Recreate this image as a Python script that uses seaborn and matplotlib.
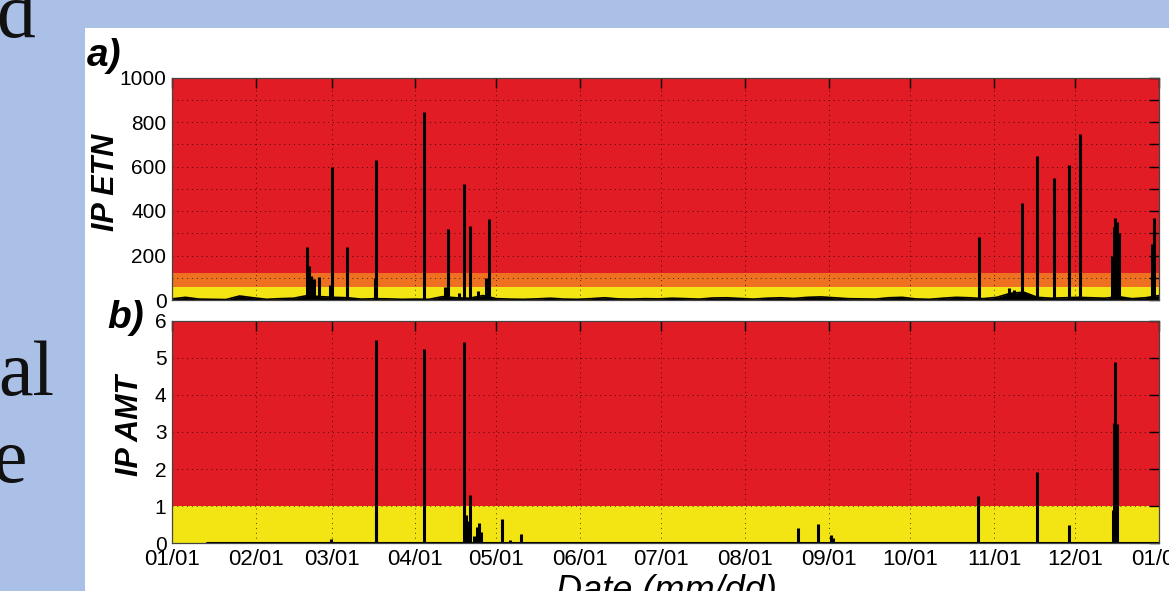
import matplotlib
matplotlib.use("Agg")
import matplotlib.pyplot as plt
from matplotlib.patches import Rectangle
import numpy as np
import pandas as pd
import seaborn as sns

# ---------------- data ----------------
month_starts = [0, 31, 59, 90, 120, 151, 181, 212, 243, 273, 304, 334, 365]
month_labels = ["01/01", "02/01", "03/01", "04/01", "05/01", "06/01", "07/01",
                "08/01", "09/01", "10/01", "11/01", "12/01", "01/01"]

# IP ETN background level (every 5 days)
etn_base_days = list(range(0, 366, 5))
etn_base_vals = [5, 12, 4, 3, 2, 18, 10, 3, 6, 8, 20, 15, 12, 10, 4, 6, 5, 3, 4, 3,
                 15, 10, 8, 20, 6, 4, 3, 5, 8, 4, 3, 6, 10, 5, 4, 6, 5, 8, 6, 4,
                 9, 10, 7, 4, 8, 10, 7, 12, 14, 10, 6, 5, 4, 10, 12, 5, 3, 8, 12, 10,
                 6, 12, 30, 35, 12, 8, 10, 12, 10, 8, 15, 6, 10, 20]

# IP ETN spikes (day of year, value)
etn_spike_days = [49.8, 50.7, 51.5, 52.5, 54.5, 58.3, 59.2, 64.6, 75.0, 75.3,
                  93.2, 101.0, 102.0, 106.0, 107.9, 110.2, 113.0, 116.2, 117.2,
                  298.3, 309.5, 311.5, 314.3, 320.0, 326.3, 331.7, 335.8,
                  347.5, 348.2, 348.7, 349.5, 350.2, 362.5, 363.0]
etn_spike_vals = [237, 154, 110, 95, 105, 67, 597, 240, 100, 627,
                  847, 60, 319, 30, 520, 334, 40, 99, 364,
                  285, 54, 45, 438, 649, 550, 607, 745,
                  200, 330, 367, 350, 300, 250, 370]

# IP AMT spikes (day of year, value)
amt_spike_days = [58.8, 75.3, 75.6, 93.2, 108.1, 108.6, 109.0, 110.2, 111.5, 112.8,
                  113.5, 114.2, 122.2, 125.0, 129.2, 231.4, 238.8, 243.8, 244.5,
                  298.2, 319.9, 331.7, 348.0, 348.4, 348.8, 349.4]
amt_spike_vals = [0.12, 5.48, 1.26, 5.24, 5.42, 0.75, 0.6, 1.3, 0.2, 0.45,
                  0.55, 0.3, 0.65, 0.08, 0.25, 0.4, 0.52, 0.22, 0.15,
                  1.28, 1.91, 0.48, 0.9, 3.25, 4.88, 3.2]
amt_base_days = [13, 365]
amt_base_vals = [0.02, 0.02]

# risk thresholds
etn_levels = [0, 60, 120, 1000]
amt_levels = [0, 1, 6]

# ---------------- style ----------------
sns.set_style("white")
plt.rcParams["font.family"] = ["Liberation Sans", "DejaVu Sans"]
plt.rcParams["text.color"] = "black"
plt.rcParams["axes.labelcolor"] = "black"
plt.rcParams["xtick.color"] = "black"
plt.rcParams["ytick.color"] = "black"

BLUE = "#abc0e7"
RED = "#e21c24"
ORANGE = "#ee7021"
YELLOW = "#f3e513"

W, H = 1169, 591
fig = plt.figure(figsize=(W / 100, H / 100), dpi=100, facecolor=BLUE)
fig.add_artist(Rectangle((85 / W, 0), 1 - 85 / W, (H - 28) / H,
                         transform=fig.transFigure, facecolor="white",
                         edgecolor="none", zorder=0))

left = 172 / W
width = (1159 - 172) / W
ax_a = fig.add_axes([left, 1 - 300 / H, width, (300 - 77.5) / H])
ax_b = fig.add_axes([left, 1 - 543.3 / H, width, (543.3 - 320.5) / H])

def style_axis(ax):
    ax.set_xlim(0, 365)
    ax.set_xticks(month_starts)
    ax.grid(True, color="black", linestyle=(0, (1, 4)), linewidth=0.7, alpha=0.7)
    ax.set_axisbelow(False)
    ax.tick_params(direction="in", length=7, width=1, top=True, right=True,
                   colors="black", labelcolor="black", labelsize=15, pad=4)
    for s in ax.spines.values():
        s.set_color("#444444")
        s.set_linewidth(0.9)
        s.set_zorder(5)
    ax.set_xlabel("")
    ax.set_ylabel("")

# panel a
ax_a.axhspan(etn_levels[0], etn_levels[1], color=YELLOW, zorder=0.5, lw=0)
ax_a.axhspan(etn_levels[1], etn_levels[2], color=ORANGE, zorder=0.5, lw=0)
ax_a.axhspan(etn_levels[2], etn_levels[3], color=RED, zorder=0.5, lw=0)
base_a = pd.DataFrame({"day": etn_base_days, "val": etn_base_vals})
sns.lineplot(data=base_a, x="day", y="val", ax=ax_a, color="black", lw=1.2, zorder=3)
ax_a.fill_between(base_a["day"], 0, base_a["val"], color="black", lw=0, zorder=3)
ax_a.vlines(etn_spike_days, 0, etn_spike_vals, color="black", lw=2.2, zorder=3)
style_axis(ax_a)
ax_a.set_ylim(0, 1000)
ax_a.set_yticks(range(0, 1001, 100))
ax_a.set_yticklabels([str(v) if v % 200 == 0 else "" for v in range(0, 1001, 100)])
ax_a.set_xticklabels([])

# panel b
ax_b.axhspan(amt_levels[0], amt_levels[1], color=YELLOW, zorder=0.5, lw=0)
ax_b.axhspan(amt_levels[1], amt_levels[2], color=RED, zorder=0.5, lw=0)
base_b = pd.DataFrame({"day": amt_base_days, "val": amt_base_vals})
sns.lineplot(data=base_b, x="day", y="val", ax=ax_b, color="black", lw=1.5, zorder=3)
ax_b.vlines(amt_spike_days, 0, amt_spike_vals, color="black", lw=2.2, zorder=3)
style_axis(ax_b)
ax_b.set_ylim(0, 6)
ax_b.set_yticks(range(0, 7))
ax_b.set_xticklabels(month_labels, fontsize=16)

# labels
fig.text(106 / W, 1 - 182 / H, "IP ETN", rotation=90, ha="center", va="center",
         fontsize=22, fontweight="bold", fontstyle="italic")
fig.text(130 / W, 1 - 425 / H, "IP AMT", rotation=90, ha="center", va="center",
         fontsize=22, fontweight="bold", fontstyle="italic")
fig.text(104 / W, 1 - 56 / H, "a)", ha="center", va="center",
         fontsize=28, fontweight="bold", fontstyle="italic")
fig.text(126 / W, 1 - 318 / H, "b)", ha="center", va="center",
         fontsize=28, fontweight="bold", fontstyle="italic")
fig.text(666 / W, 1 - 601 / H, "Date (mm/dd)", ha="center", va="baseline",
         fontsize=26, fontstyle="italic")

# slide text fragments on the left
serif = ["Liberation Serif", "DejaVu Serif"]
fig.text(35 / W, 1 - 37 / H, "d", ha="right", va="baseline", fontsize=56,
         family=serif, color="#111111")
fig.text(54 / W, 1 - 395 / H, "al", ha="right", va="baseline", fontsize=56,
         family=serif, color="#111111")
fig.text(28 / W, 1 - 482 / H, "e", ha="right", va="baseline", fontsize=56,
         family=serif, color="#111111")

fig.savefig("out.png", dpi=100, facecolor=BLUE)
